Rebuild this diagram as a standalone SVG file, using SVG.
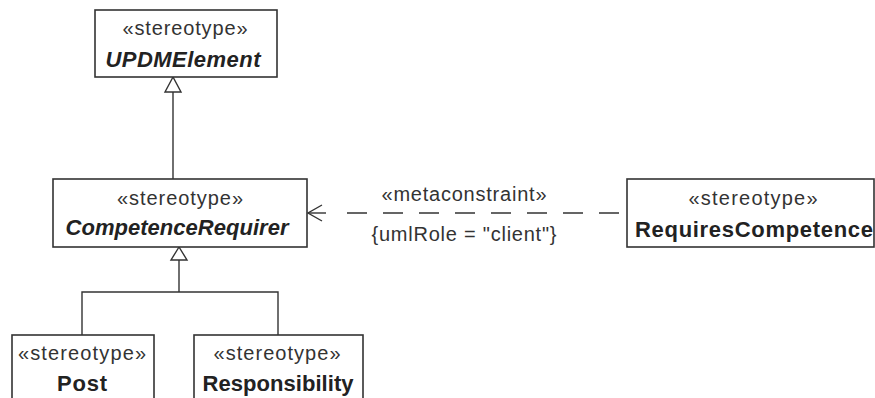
<svg xmlns="http://www.w3.org/2000/svg" width="875" height="398" viewBox="0 0 875 398">
<style>
.box{fill:#fff;stroke:#333;stroke-width:1.6}
.st{font-family:"Liberation Sans",Arial,sans-serif;font-size:20px;fill:#333;text-anchor:middle}
.nm{font-family:"Liberation Sans",Arial,sans-serif;font-size:22px;font-weight:bold;fill:#222;text-anchor:middle}
.ab{font-style:italic}
.ln{fill:none;stroke:#333;stroke-width:1.4}
.lbl{font-family:"Liberation Sans",Arial,sans-serif;font-size:20px;fill:#333;text-anchor:middle}
</style>
<rect width="875" height="398" fill="#fff"/>
<g id="connectors">
<g id="gen-top">
<line class="ln" x1="173" y1="92" x2="173" y2="179"/>
<polygon class="ln" points="173,77 165,92 181,92" fill="#fff"/>
</g>
<g id="gen-bottom">
<polyline class="ln" points="82,335 82,292 278,292 278,335"/>
<line class="ln" x1="179" y1="260" x2="179" y2="292"/>
<polygon class="ln" points="179,247 171,260 187,260" fill="#fff"/>
</g>
<g id="dependency">
<line class="ln" x1="308" y1="213" x2="326" y2="213"/>
<polyline class="ln" points="322,205 308,213 322,221"/>
<line class="ln" x1="347" y1="213" x2="619" y2="213" stroke-dasharray="20 16"/>
<text class="lbl" x="464" y="201" textLength="165">«metaconstraint»</text>
<text class="lbl" x="464" y="241" textLength="185">{umlRole = "client"}</text>
</g>
</g>
<g id="UPDMElement">
<rect class="box" x="95" y="10" width="182" height="67"/>
<text class="st" x="185" y="35" textLength="125">«stereotype»</text>
<text class="nm ab" x="183" y="67" textLength="155">UPDMElement</text>
</g>
<g id="CompetenceRequirer">
<rect class="box" x="53" y="179" width="254" height="68"/>
<text class="st" x="180" y="205" textLength="126">«stereotype»</text>
<text class="nm ab" x="177" y="235" textLength="223">CompetenceRequirer</text>
</g>
<g id="RequiresCompetence">
<rect class="box" x="627" y="179" width="247" height="68"/>
<text class="st" x="753" y="205" textLength="129">«stereotype»</text>
<text class="nm" x="754" y="237" textLength="238">RequiresCompetence</text>
</g>
<g id="Post">
<rect class="box" x="12" y="335" width="142" height="70"/>
<text class="st" x="82" y="360" textLength="128">«stereotype»</text>
<text class="nm" x="82" y="391" textLength="50">Post</text>
</g>
<g id="Responsibility">
<rect class="box" x="194" y="335" width="169" height="70"/>
<text class="st" x="277" y="360" textLength="127">«stereotype»</text>
<text class="nm" x="278" y="391" textLength="151">Responsibility</text>
</g>
</svg>
